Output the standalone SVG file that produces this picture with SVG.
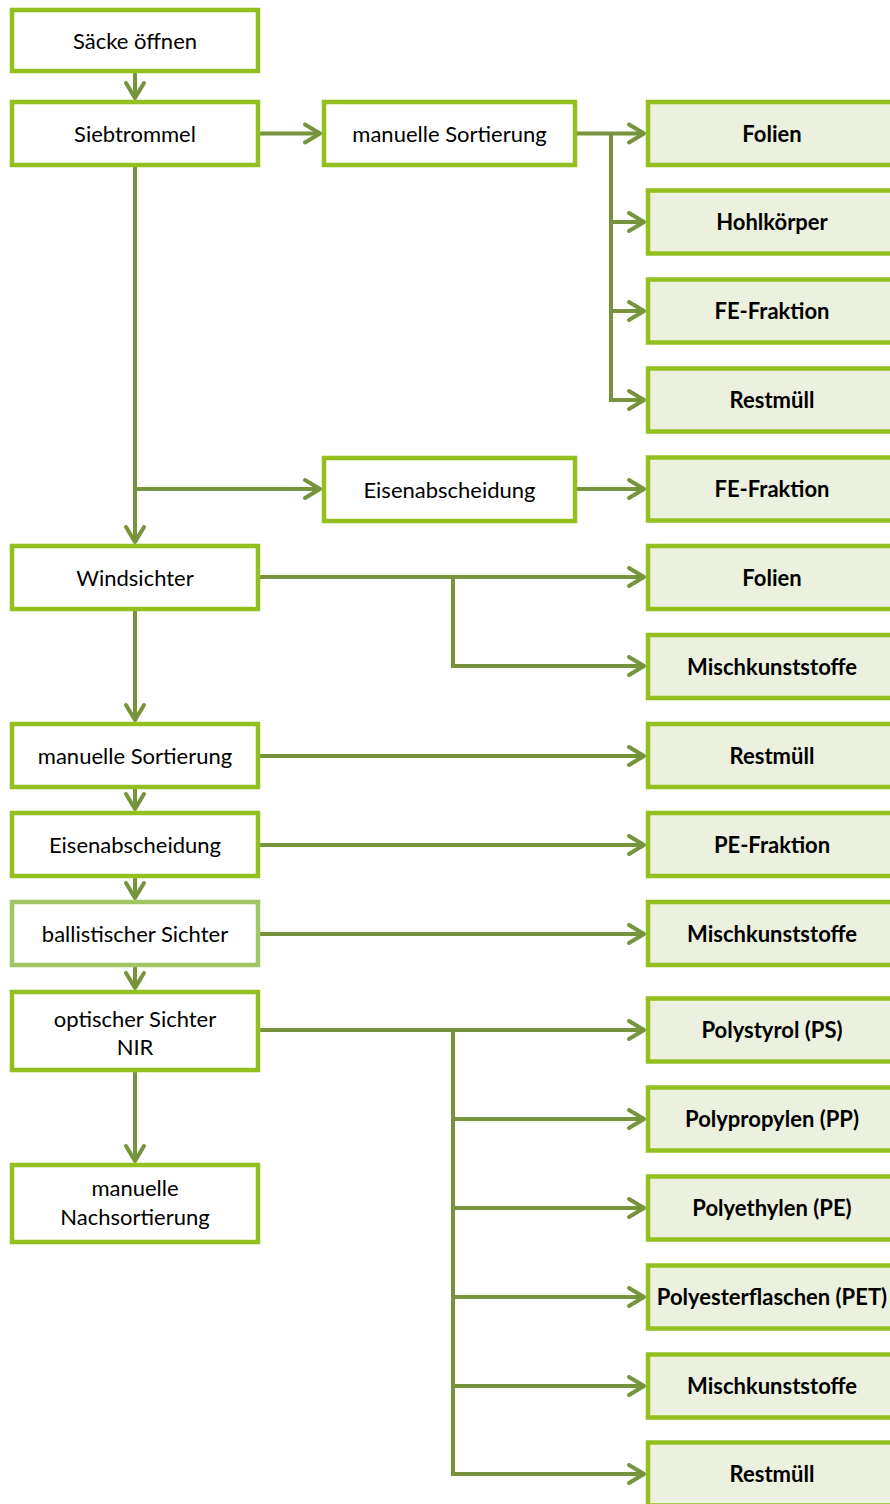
<svg xmlns="http://www.w3.org/2000/svg" width="890" height="1504" viewBox="0 0 890 1504">
<defs>
<style>
.box{fill:#ffffff;stroke:#93c01f;stroke-width:4.5}
.boxl{fill:#ffffff;stroke:#a2c566;stroke-width:4.5}
.out{fill:#ebf1de;stroke:#93c01f;stroke-width:4.5}
.t{font-family:Lato,"Liberation Sans",sans-serif;font-size:22px;fill:#000;text-anchor:middle}
.b{font-family:Lato,"Liberation Sans",sans-serif;font-size:22px;font-weight:bold;fill:#000;text-anchor:middle}
.c{fill:none;stroke:#77933c;stroke-width:4}
</style>
<marker id="ah" markerUnits="userSpaceOnUse" viewBox="-20 -13 24 26" refX="0" refY="0" markerWidth="24" markerHeight="26" orient="auto">
<path d="M-15,-9 L0,0 L-15,9" fill="none" stroke="#77933c" stroke-width="4" stroke-linecap="round" stroke-linejoin="round"/>
</marker>
</defs>
<g id="connectors">
<path class="c" d="M135,72 V98" marker-end="url(#ah)"/>
<path class="c" d="M260,133.5 H320" marker-end="url(#ah)"/>
<path class="c" d="M135,167 V542" marker-end="url(#ah)"/>
<path class="c" d="M135,489 H320" marker-end="url(#ah)"/>
<path class="c" d="M577,133.5 H644" marker-end="url(#ah)"/>
<path class="c" d="M611,133.5 V222 H644" marker-end="url(#ah)"/>
<path class="c" d="M611,222 V311 H644" marker-end="url(#ah)"/>
<path class="c" d="M611,311 V400 H644" marker-end="url(#ah)"/>
<path class="c" d="M577,489 H644" marker-end="url(#ah)"/>
<path class="c" d="M260,577 H644" marker-end="url(#ah)"/>
<path class="c" d="M453,577 V666 H644" marker-end="url(#ah)"/>
<path class="c" d="M135,611 V720" marker-end="url(#ah)"/>
<path class="c" d="M260,756 H644" marker-end="url(#ah)"/>
<path class="c" d="M135,789 V809" marker-end="url(#ah)"/>
<path class="c" d="M260,845 H644" marker-end="url(#ah)"/>
<path class="c" d="M135,878 V898" marker-end="url(#ah)"/>
<path class="c" d="M260,934 H644" marker-end="url(#ah)"/>
<path class="c" d="M135,967 V988" marker-end="url(#ah)"/>
<path class="c" d="M260,1030 H644" marker-end="url(#ah)"/>
<path class="c" d="M453,1030 V1119 H644" marker-end="url(#ah)"/>
<path class="c" d="M453,1119 V1208 H644" marker-end="url(#ah)"/>
<path class="c" d="M453,1208 V1297 H644" marker-end="url(#ah)"/>
<path class="c" d="M453,1297 V1386 H644" marker-end="url(#ah)"/>
<path class="c" d="M453,1386 V1474 H644" marker-end="url(#ah)"/>
<path class="c" d="M135,1072 V1161" marker-end="url(#ah)"/>
</g>
<g id="n-saecke"><rect class="box" x="12" y="10" width="246" height="61"/><text class="t" x="135" y="48.5">Säcke öffnen</text></g>
<g id="n-siebtrommel"><rect class="box" x="12" y="102" width="246" height="63"/><text class="t" x="135" y="141.5">Siebtrommel</text></g>
<g id="n-manuell1"><rect class="box" x="324" y="102" width="251" height="63"/><text class="t" x="449.5" y="141.5">manuelle Sortierung</text></g>
<g id="n-eisen1"><rect class="box" x="324" y="458" width="251" height="63"/><text class="t" x="449.5" y="497.5">Eisenabscheidung</text></g>
<g id="n-windsichter"><rect class="box" x="12" y="546" width="246" height="63"/><text class="t" x="135" y="585.5">Windsichter</text></g>
<g id="n-manuell2"><rect class="box" x="12" y="724" width="246" height="63"/><text class="t" x="135" y="763.5">manuelle Sortierung</text></g>
<g id="n-eisen2"><rect class="box" x="12" y="813" width="246" height="63"/><text class="t" x="135" y="852.5">Eisenabscheidung</text></g>
<g id="n-ballistisch"><rect class="boxl" x="12" y="902" width="246" height="63"/><text class="t" x="135" y="941.5">ballistischer Sichter</text></g>
<g id="n-optisch"><rect class="box" x="12" y="992" width="246" height="78"/><text class="t" x="135" y="1027">optischer Sichter</text><text class="t" x="135" y="1055">NIR</text></g>
<g id="n-nachsort"><rect class="box" x="12" y="1165" width="246" height="77"/><text class="t" x="135" y="1196">manuelle</text><text class="t" x="135" y="1225">Nachsortierung</text></g>
<g id="o-folien1"><rect class="out" x="648" y="102" width="252" height="63"/><text class="b" x="772" y="141.5">Folien</text></g>
<g id="o-hohl"><rect class="out" x="648" y="190.5" width="252" height="63"/><text class="b" x="772" y="230">Hohlkörper</text></g>
<g id="o-fe1"><rect class="out" x="648" y="279.5" width="252" height="63"/><text class="b" x="772" y="319">FE-Fraktion</text></g>
<g id="o-rest1"><rect class="out" x="648" y="368.5" width="252" height="63"/><text class="b" x="772" y="408">Restmüll</text></g>
<g id="o-fe2"><rect class="out" x="648" y="457.5" width="252" height="63"/><text class="b" x="772" y="497">FE-Fraktion</text></g>
<g id="o-folien2"><rect class="out" x="648" y="546" width="252" height="63"/><text class="b" x="772" y="585.5">Folien</text></g>
<g id="o-misch1"><rect class="out" x="648" y="635" width="252" height="63"/><text class="b" x="772" y="674.5">Mischkunststoffe</text></g>
<g id="o-rest2"><rect class="out" x="648" y="724" width="252" height="63"/><text class="b" x="772" y="763.5">Restmüll</text></g>
<g id="o-pe1"><rect class="out" x="648" y="813" width="252" height="63"/><text class="b" x="772" y="852.5">PE-Fraktion</text></g>
<g id="o-misch2"><rect class="out" x="648" y="902" width="252" height="63"/><text class="b" x="772" y="941.5">Mischkunststoffe</text></g>
<g id="o-ps"><rect class="out" x="648" y="998.5" width="252" height="63"/><text class="b" x="772" y="1038">Polystyrol (PS)</text></g>
<g id="o-pp"><rect class="out" x="648" y="1087.5" width="252" height="63"/><text class="b" x="772" y="1127">Polypropylen (PP)</text></g>
<g id="o-pe2"><rect class="out" x="648" y="1176.5" width="252" height="63"/><text class="b" x="772" y="1216">Polyethylen (PE)</text></g>
<g id="o-pet"><rect class="out" x="648" y="1265.5" width="252" height="63"/><text class="b" x="772" y="1305">Polyesterflaschen (PET)</text></g>
<g id="o-misch3"><rect class="out" x="648" y="1354.5" width="252" height="63"/><text class="b" x="772" y="1394">Mischkunststoffe</text></g>
<g id="o-rest3"><rect class="out" x="648" y="1442.5" width="252" height="63"/><text class="b" x="772" y="1482">Restmüll</text></g>
</svg>
